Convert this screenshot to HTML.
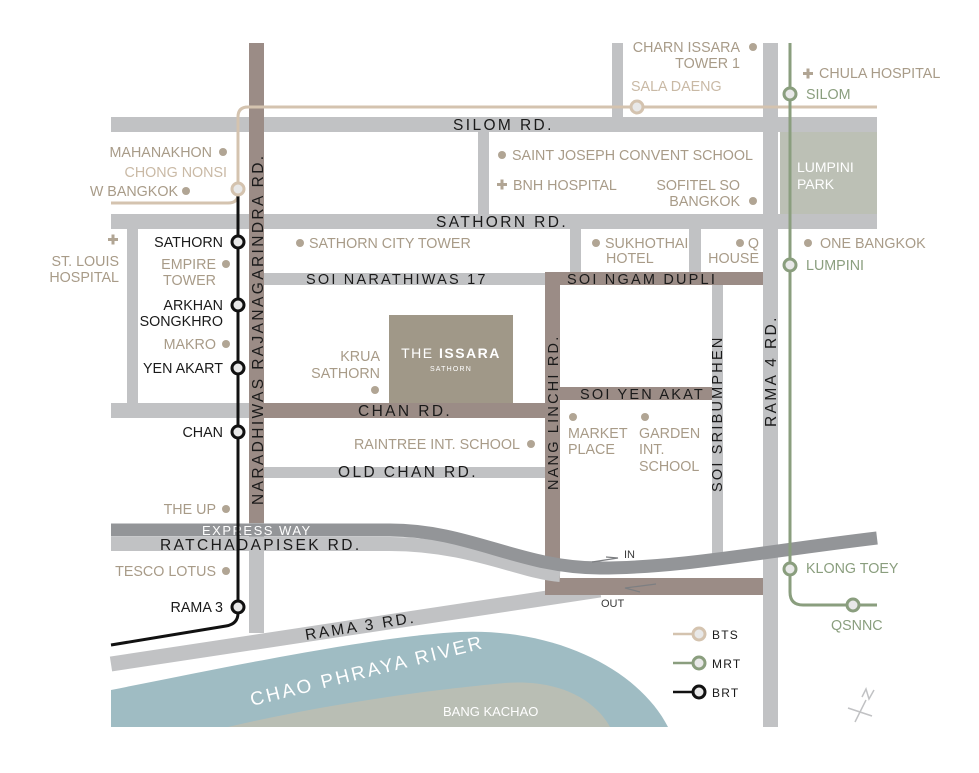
<!DOCTYPE html>
<html><head><meta charset="utf-8"><style>
html,body{margin:0;padding:0;background:#fff;}
svg{display:block;}
text{font-family:"Liberation Sans",sans-serif;}
.t{fill:#a89b88;font-size:14.3px;}
.k{fill:#1a1a1a;font-size:14.3px;}
.r{fill:#1a1a1a;font-size:15.5px;letter-spacing:2.4px;}
.s{fill:#1a1a1a;font-size:14.5px;letter-spacing:2.2px;}
.g{fill:#8a9e7e;font-size:14.3px;}
.b{fill:#c9b9a5;font-size:14.3px;}
</style></head><body>
<svg width="979" height="773" viewBox="0 0 979 773" xmlns="http://www.w3.org/2000/svg">
<!-- river -->
<path d="M111,690 C250,662 380,636 460,632 C560,628 640,672 668,727 L111,727 Z" fill="#9fbcc3"/>
<path d="M228,727 C330,703 430,690 505,683 C560,679 595,700 610,727 Z" fill="#b9beb4"/>
<text x="0" y="0" transform="translate(252,706) rotate(-14)" fill="#fff" font-size="19" letter-spacing="2.5">CHAO PHRAYA RIVER</text>
<text x="443" y="716" fill="#fff" font-size="13">BANG KACHAO</text>

<!-- gray roads -->
<g fill="#c1c2c4">
<rect x="111" y="117" width="766" height="15"/>
<rect x="111" y="214" width="766" height="15"/>
<rect x="763" y="43" width="15" height="684"/>
<rect x="612" y="43" width="11" height="74"/>
<rect x="478" y="132" width="11" height="82"/>
<rect x="570" y="229" width="11" height="45"/>
<rect x="689" y="229" width="12" height="45"/>
<rect x="264" y="273" width="281" height="12"/>
<rect x="712" y="285" width="11" height="270"/>
<rect x="127" y="229" width="11" height="175"/>
<rect x="111" y="403" width="138" height="15"/>
<rect x="264" y="467" width="281" height="11"/>
<rect x="249" y="500" width="15" height="133"/>
</g>
<rect x="780" y="132" width="97" height="82" fill="#bcc0b5"/>
<text x="797" y="172" fill="#fff" font-size="14">LUMPINI</text>
<text x="797" y="189" fill="#fff" font-size="14">PARK</text>

<!-- rama 3 -->
<path d="M111,664 L600,590" stroke="#c1c2c4" stroke-width="15" fill="none"/>
<text transform="translate(306,640) rotate(-9)" class="r">RAMA 3 RD.</text>

<!-- brown roads -->
<g fill="#9b8c86">
<rect x="249" y="43" width="15" height="480"/>
<rect x="545" y="272" width="218" height="13"/>
<rect x="545" y="272" width="15" height="323"/>
<rect x="560" y="387" width="152" height="13"/>
<rect x="264" y="403" width="281" height="15"/>
<rect x="545" y="578" width="218" height="17"/>
</g>
<!-- ratchadapisek and expressway -->
<path d="M111,544 L390,544 C470,544 520,572 560,575" stroke="#c1c2c4" stroke-width="14" fill="none"/>
<path d="M111,530 L390,530 C470,530 520,568 600,568 C680,568 760,552 877,538" stroke="#939598" stroke-width="13" fill="none"/>
<text x="202" y="535" fill="#fff" font-size="13" letter-spacing="1.5">EXPRESS WAY</text>
<text x="160" y="550" class="r">RATCHADAPISEK RD.</text>
<path d="M592,562 L618,558 L606,557" stroke="#7d7f82" stroke-width="1.2" fill="none"/>
<text x="624" y="558" fill="#3a3a3a" font-size="11">IN</text>
<path d="M656,584 L625,588 L640,592" stroke="#7d7f82" stroke-width="1.2" fill="none"/>
<text x="601" y="607" fill="#3a3a3a" font-size="11">OUT</text>

<!-- issara -->
<rect x="389" y="315" width="124" height="88" fill="#a09888"/>
<text x="451" y="358" fill="#fff" font-size="14" text-anchor="middle" letter-spacing="1.5">THE <tspan font-weight="bold">ISSARA</tspan></text>
<text x="451" y="371" fill="#fff" font-size="7" text-anchor="middle" letter-spacing="1.2">SATHORN</text>

<!-- road labels -->
<text x="453" y="130" class="r">SILOM RD.</text>
<text x="436" y="227" class="r">SATHORN RD.</text>
<text x="306" y="284" class="s">SOI NARATHIWAS 17</text>
<text x="567" y="284" class="s">SOI NGAM DUPLI</text>
<text x="580" y="399" class="s">SOI YEN AKAT</text>
<text x="358" y="416" class="r">CHAN RD.</text>
<text x="338" y="477" class="r">OLD CHAN RD.</text>
<text transform="translate(263,505) rotate(-90)" class="r">NARADHIWAS RAJANAGARINDRA RD.</text>
<text transform="translate(776,427) rotate(-90)" class="r">RAMA 4 RD.</text>
<text transform="translate(558,490) rotate(-90)" class="s">NANG LINCHI RD.</text>
<text transform="translate(722,492) rotate(-90)" class="s">SOI SRIBUMPHEN</text>

<!-- BTS -->
<path d="M877,107 L248,107 Q238,107 238,117 L238,194 Q238,203 228,203 L111,203" stroke="#d4c3af" stroke-width="3" fill="none"/>
<!-- BRT -->
<path d="M238,196 L238,613 Q238,624 226,626 L111,645" stroke="#111" stroke-width="3" fill="none"/>
<!-- MRT -->
<path d="M790,43 L790,592 Q790,605 803,605 L877,605" stroke="#8a9e7e" stroke-width="3" fill="none"/>

<g stroke-width="3" fill="#e8e8e8">
<circle cx="238" cy="189" r="6" stroke="#d4c3af"/>
<circle cx="637" cy="107" r="6" stroke="#d4c3af"/>
<circle cx="238" cy="242" r="6" stroke="#111"/>
<circle cx="238" cy="305" r="6" stroke="#111"/>
<circle cx="238" cy="368" r="6" stroke="#111"/>
<circle cx="238" cy="432" r="6" stroke="#111"/>
<circle cx="238" cy="607" r="6" stroke="#111"/>
<circle cx="790" cy="94" r="6" stroke="#8a9e7e"/>
<circle cx="790" cy="265" r="6" stroke="#8a9e7e"/>
<circle cx="790" cy="569" r="6" stroke="#8a9e7e"/>
<circle cx="853" cy="605" r="6" stroke="#8a9e7e"/>
</g>

<!-- dots -->
<g fill="#b1a594">
<circle cx="223" cy="152" r="4"/><circle cx="186" cy="191" r="4"/>
<circle cx="226" cy="264" r="4"/><circle cx="226" cy="344" r="4"/>
<circle cx="226" cy="509" r="4"/><circle cx="226" cy="571" r="4"/>
<circle cx="300" cy="243" r="4"/><circle cx="375" cy="390" r="4"/>
<circle cx="531" cy="444" r="4"/><circle cx="573" cy="417" r="4"/><circle cx="645" cy="417" r="4"/>
<circle cx="502" cy="155" r="4"/><circle cx="753" cy="201" r="4"/>
<circle cx="596" cy="243" r="4"/><circle cx="740" cy="243" r="4"/>
<circle cx="753" cy="47" r="4"/><circle cx="808" cy="243" r="4"/>
</g>
<g fill="#b1a594">
<rect x="108" y="238" width="10" height="3"/><rect x="111.5" y="234.5" width="3" height="10"/>
<rect x="497" y="183" width="10" height="3"/><rect x="500.5" y="179.5" width="3" height="10"/>
<rect x="803" y="72" width="10" height="3"/><rect x="806.5" y="68.5" width="3" height="10"/>
</g>

<!-- labels -->
<text x="212" y="157" class="t" text-anchor="end">MAHANAKHON</text>
<text x="227" y="177" class="b" text-anchor="end">CHONG NONSI</text>
<text x="178" y="196" class="t" text-anchor="end">W BANGKOK</text>
<text x="223" y="247" class="k" text-anchor="end">SATHORN</text>
<text x="216" y="269" class="t" text-anchor="end">EMPIRE</text>
<text x="216" y="285" class="t" text-anchor="end">TOWER</text>
<text x="223" y="310" class="k" text-anchor="end">ARKHAN</text>
<text x="223" y="326" class="k" text-anchor="end">SONGKHRO</text>
<text x="216" y="349" class="t" text-anchor="end">MAKRO</text>
<text x="223" y="373" class="k" text-anchor="end">YEN AKART</text>
<text x="223" y="437" class="k" text-anchor="end">CHAN</text>
<text x="216" y="514" class="t" text-anchor="end">THE UP</text>
<text x="216" y="576" class="t" text-anchor="end">TESCO LOTUS</text>
<text x="223" y="612" class="k" text-anchor="end">RAMA 3</text>
<text x="119" y="266" class="t" text-anchor="end">ST. LOUIS</text>
<text x="119" y="282" class="t" text-anchor="end">HOSPITAL</text>
<text x="309" y="248" class="t">SATHORN CITY TOWER</text>
<text x="380" y="361" class="t" text-anchor="end">KRUA</text>
<text x="380" y="378" class="t" text-anchor="end">SATHORN</text>
<text x="520" y="449" class="t" text-anchor="end">RAINTREE INT. SCHOOL</text>
<text x="568" y="438" class="t">MARKET</text>
<text x="568" y="454" class="t">PLACE</text>
<text x="639" y="438" class="t">GARDEN</text>
<text x="639" y="454" class="t">INT.</text>
<text x="639" y="471" class="t">SCHOOL</text>
<text x="512" y="160" class="t">SAINT JOSEPH CONVENT SCHOOL</text>
<text x="513" y="190" class="t">BNH HOSPITAL</text>
<text x="740" y="190" class="t" text-anchor="end">SOFITEL SO</text>
<text x="740" y="206" class="t" text-anchor="end">BANGKOK</text>
<text x="605" y="248" class="t">SUKHOTHAI</text>
<text x="606" y="263" class="t">HOTEL</text>
<text x="759" y="248" class="t" text-anchor="end">Q</text>
<text x="759" y="263" class="t" text-anchor="end">HOUSE</text>
<text x="740" y="52" class="t" text-anchor="end">CHARN ISSARA</text>
<text x="740" y="68" class="t" text-anchor="end">TOWER 1</text>
<text x="631" y="91" class="b">SALA DAENG</text>
<text x="819" y="78" class="t">CHULA HOSPITAL</text>
<text x="806" y="99" class="g">SILOM</text>
<text x="820" y="248" class="t">ONE BANGKOK</text>
<text x="806" y="270" class="g">LUMPINI</text>
<text x="806" y="573" class="g">KLONG TOEY</text>
<text x="831" y="630" class="g">QSNNC</text>

<!-- legend -->
<line x1="673" y1="634" x2="695" y2="634" stroke="#d4c3af" stroke-width="2.5"/>
<circle cx="699" cy="634" r="6" fill="#e8e8e8" stroke="#d4c3af" stroke-width="3"/>
<text x="712" y="639" fill="#1a1a1a" font-size="12" letter-spacing="1.2">BTS</text>
<line x1="673" y1="663" x2="695" y2="663" stroke="#8a9e7e" stroke-width="2.5"/>
<circle cx="699" cy="663" r="6" fill="#e8e8e8" stroke="#8a9e7e" stroke-width="3"/>
<text x="712" y="668" fill="#1a1a1a" font-size="12" letter-spacing="1.2">MRT</text>
<line x1="673" y1="692" x2="695" y2="692" stroke="#111" stroke-width="2.5"/>
<circle cx="699" cy="692" r="6" fill="#e8e8e8" stroke="#111" stroke-width="3"/>
<text x="712" y="697" fill="#1a1a1a" font-size="12" letter-spacing="1.2">BRT</text>

<!-- compass -->
<g stroke="#c1c2c4" stroke-width="1.5" fill="none">
<line x1="848" y1="708" x2="872" y2="716"/>
<line x1="866" y1="700" x2="855" y2="722"/>
<path d="M862,697 L866,689 L869,699 L874,690"/>
</g>
</svg>
</body></html>
